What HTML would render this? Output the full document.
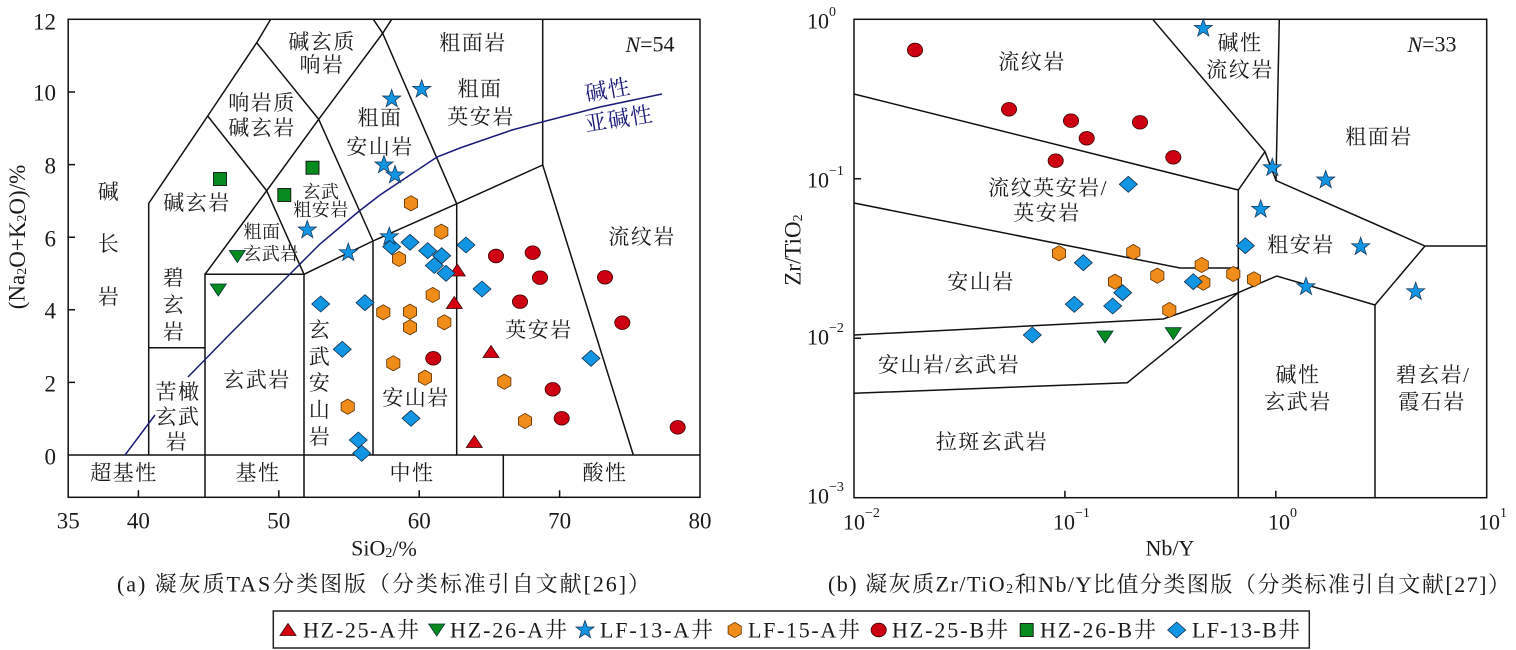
<!DOCTYPE html>
<html><head><meta charset="utf-8"><style>
html,body{margin:0;padding:0;background:#fff}
svg{display:block}
text{font-family:"Liberation Serif","Noto Serif CJK SC",serif;fill:#1a1a1a}
</style></head><body>
<svg width="1516" height="650" viewBox="0 0 1516 650" xmlns="http://www.w3.org/2000/svg">
<defs>
<path id="st" d="M0,-9.5L2.23,-3.07L9.04,-2.94L3.61,1.17L5.58,7.69L0,3.8L-5.58,7.69L-3.61,1.17L-9.04,-2.94L-2.23,-3.07Z" fill="#1296e4" stroke="#173a5c" stroke-width="0.8"/>
<ellipse id="ci" rx="7.6" ry="6.8" fill="#cc0010" stroke="#3a0000" stroke-width="0.8"/>
<path id="tu" d="M0,-7L8,5L-8,5Z" fill="#d40010" stroke="#3a0000" stroke-width="0.8"/>
<path id="td" d="M-8,-5L8,-5L0,7Z" fill="#078a1e" stroke="#033" stroke-width="0.8"/>
<path id="hx" d="M0,-7.6L6.6,-3.8L6.6,3.8L0,7.6L-6.6,3.8L-6.6,-3.8Z" fill="#f08c1a" stroke="#5a3000" stroke-width="0.8"/>
<path id="dm" d="M0,-8L9,0L0,8L-9,0Z" fill="#1296e4" stroke="#10304a" stroke-width="0.8"/>
<rect id="sq" x="-6.5" y="-6.5" width="13" height="13" fill="#078a1e" stroke="#111" stroke-width="0.9"/>
</defs>
<rect width="1516" height="650" fill="#fff"/>

<!-- ================= LEFT CHART ================= -->
<g stroke="#111" stroke-width="1.5" fill="none">
<rect x="68.2" y="19.3" width="631.8" height="478"/>
<path d="M68.2,455H700"/>
<path d="M148.7,455V203.3L207.7,116L256.7,42.7L270.7,19.3"/>
<path d="M148.7,347.7H205"/>
<path d="M205,497.3V274.3H304V497.3"/>
<path d="M205,274.3L266.7,190.7L304,274.3"/>
<path d="M207.7,116L266.7,190.7L318.7,119.3L382.7,33.3L391.7,19.3"/>
<path d="M256.7,42.7L318.7,119.3L373,241"/>
<path d="M373.3,19.3L382.7,33.3L456.7,203.8"/>
<path d="M304,274.3L373,241L456.7,203.8L542.7,165L633.3,455"/>
<path d="M373,241V455M456.7,203.8V455"/>
<path d="M542.7,19.3V165"/>
<path d="M503.3,455V497.3"/>
<path d="M68.2,382.4H75M68.2,309.8H75M68.2,237.2H75M68.2,164.6H75M68.2,92H75"/>
<path d="M138.4,497.3V490.3M278.8,497.3V490.3M419.2,497.3V490.3M559.6,497.3V490.3"/>
</g>
<path d="M125,455L155,415M188,377L230,334L262,302L290,274L320,244L358,212L380,195L410,175L437,157L460,148L483,140L512,130L542,122L600,107L662,94" fill="none" stroke="#1a1a7a" stroke-width="1.5"/>

<g font-size="23" text-anchor="end" dominant-baseline="central">
<text x="56" y="22">12</text>
<text x="56" y="93">10</text>
<text x="56" y="166">8</text>
<text x="56" y="239">6</text>
<text x="56" y="311">4</text>
<text x="56" y="384">2</text>
<text x="56" y="457">0</text>
</g>
<g font-size="23" text-anchor="middle" dominant-baseline="central">
<text x="68.2" y="521">35</text>
<text x="138.4" y="521">40</text>
<text x="278.8" y="521">50</text>
<text x="419.2" y="521">60</text>
<text x="559.6" y="521">70</text>
<text x="700" y="521">80</text>
</g>
<text x="384" y="548" font-size="22" text-anchor="middle" dominant-baseline="central">SiO<tspan font-size="14" dy="5">2</tspan><tspan dy="-5">/%</tspan></text>
<text transform="translate(17,237) rotate(-90)" font-size="23" text-anchor="middle" dominant-baseline="central">(Na<tspan font-size="14" dy="5">2</tspan><tspan dy="-5">O+K</tspan><tspan font-size="14" dy="5">2</tspan><tspan dy="-5">O)/%</tspan></text>

<g font-size="21" text-anchor="middle" dominant-baseline="central" letter-spacing="1.5">
<text x="322" y="42">碱玄质</text>
<text x="322" y="65">响岩</text>
<text x="262" y="103">响岩质</text>
<text x="262" y="128">碱玄岩</text>
<text x="197" y="203">碱玄岩</text>
<text x="380" y="118">粗面</text>
<text x="380" y="147">安山岩</text>
<text x="473" y="43">粗面岩</text>
<text x="480" y="89">粗面</text>
<text x="481" y="117">英安岩</text>
<text x="642" y="237">流纹岩</text>
<text x="539" y="330">英安岩</text>
<text x="416" y="398">安山岩</text>
<text x="257" y="380">玄武岩</text>
<text x="109" y="192">碱</text>
<text x="109" y="244">长</text>
<text x="109" y="297">岩</text>
<text x="174" y="278">碧</text>
<text x="174" y="305">玄</text>
<text x="174" y="332">岩</text>
<text x="178" y="392">苦橄</text>
<text x="178" y="417">玄武</text>
<text x="177" y="442">岩</text>
<text x="320" y="330">玄</text>
<text x="320" y="357">武</text>
<text x="320" y="383">安</text>
<text x="320" y="410">山</text>
<text x="320" y="437">岩</text>
<text x="124" y="473">超基性</text>
<text x="258" y="473">基性</text>
<text x="412" y="473">中性</text>
<text x="605" y="473">酸性</text>
</g>
<g font-size="18" text-anchor="middle" dominant-baseline="central" letter-spacing="0.5">
<text x="321" y="192">玄武</text>
<text x="321" y="210">粗安岩</text>
<text x="262" y="232">粗面</text>
<text x="271" y="254">玄武岩</text>
</g>
<text x="650" y="44" font-size="22" text-anchor="middle" dominant-baseline="central"><tspan font-style="italic">N</tspan>=54</text>
<g font-size="22" text-anchor="middle" dominant-baseline="central" letter-spacing="1">
<text transform="translate(608,90) rotate(-10)" style="fill:#1a1a7a">碱性</text>
<text transform="translate(619,119) rotate(-9)" style="fill:#1a1a7a">亚碱性</text>
</g>

<g>
<use href="#hx" x="399" y="259"/><use href="#hx" x="432.7" y="295"/><use href="#hx" x="383.3" y="312.3"/>
<use href="#hx" x="410" y="311.7"/><use href="#hx" x="410" y="327.3"/><use href="#hx" x="444.3" y="322.3"/>
<use href="#hx" x="393.3" y="363.3"/><use href="#hx" x="425" y="377.7"/><use href="#hx" x="504.3" y="381.7"/>
<use href="#hx" x="525" y="421"/><use href="#hx" x="411" y="203.3"/><use href="#hx" x="441.3" y="231.7"/>
<use href="#hx" x="347.7" y="406.7"/>
<use href="#ci" x="496" y="256"/><use href="#ci" x="532.7" y="252.7"/><use href="#ci" x="540" y="277.7"/>
<use href="#ci" x="605" y="277.3"/><use href="#ci" x="520" y="301.7"/><use href="#ci" x="622.3" y="322.7"/>
<use href="#ci" x="433.3" y="358.3"/><use href="#ci" x="552.7" y="389.3"/><use href="#ci" x="561.7" y="418.3"/>
<use href="#ci" x="677.7" y="427.3"/>
<use href="#tu" x="457.3" y="271"/><use href="#tu" x="454.3" y="303.5"/><use href="#tu" x="491" y="352.5"/><use href="#tu" x="474.3" y="442.5"/>
<use href="#sq" x="220" y="179"/><use href="#sq" x="312.5" y="167.7"/><use href="#sq" x="284.3" y="195"/>
<use href="#td" x="237.3" y="255.5"/><use href="#td" x="218.3" y="289"/>
<use href="#dm" x="391.7" y="246.7"/><use href="#dm" x="410" y="242.3"/><use href="#dm" x="427.7" y="250.7"/>
<use href="#dm" x="441.7" y="255.7"/><use href="#dm" x="434.3" y="265.5"/><use href="#dm" x="446" y="273.3"/>
<use href="#dm" x="466" y="245"/><use href="#dm" x="482" y="289"/><use href="#dm" x="365" y="302.7"/>
<use href="#dm" x="320.7" y="304"/><use href="#dm" x="342.3" y="349.3"/><use href="#dm" x="591" y="358.3"/>
<use href="#dm" x="411" y="418.3"/><use href="#dm" x="358.3" y="440"/><use href="#dm" x="361.7" y="453.3"/>
<use href="#st" x="384" y="165"/><use href="#st" x="395" y="175"/><use href="#st" x="307.3" y="230"/>
<use href="#st" x="348.3" y="252.7"/><use href="#st" x="389.3" y="236.7"/><use href="#st" x="421.7" y="89.3"/>
<use href="#st" x="391.7" y="99"/>
</g>

<!-- ================= RIGHT CHART ================= -->
<g stroke="#111" stroke-width="1.5" fill="none">
<rect x="854" y="19.3" width="632.7" height="478.4"/>
<path d="M854,94L1238.3,190L1265,151.7L1152.7,19.3"/>
<path d="M1279.3,19.3L1276,180.5L1425,246H1486.7"/>
<path d="M1265,151.7L1276,180.5"/>
<path d="M1425,246L1375,305V497.7"/>
<path d="M854,203L1180,268H1238.3"/>
<path d="M1238.3,190V497.7"/>
<path d="M854,335L1163.3,319L1238.3,292.7L1276.7,276L1375,305"/>
<path d="M854,393.3L1127.3,382.7L1238.3,292.7"/>
<path d="M854,178.8H861M854,338.2H861"/>
<path d="M1064.9,497.7V490.7M1275.8,497.7V490.7"/>
</g>
<g font-size="22" dominant-baseline="central">
<text x="807" y="21">10<tspan font-size="14" dy="-9">0</tspan></text>
<text x="807" y="180">10<tspan font-size="14" dy="-9">−1</tspan></text>
<text x="807" y="337">10<tspan font-size="14" dy="-9">−2</tspan></text>
<text x="807" y="496">10<tspan font-size="14" dy="-9">−3</tspan></text>
<text x="843" y="522">10<tspan font-size="14" dy="-9">−2</tspan></text>
<text x="1053" y="522">10<tspan font-size="14" dy="-9">−1</tspan></text>
<text x="1268" y="522">10<tspan font-size="14" dy="-9">0</tspan></text>
<text x="1478" y="522">10<tspan font-size="14" dy="-9">1</tspan></text>
</g>
<text x="1170" y="548" font-size="22" text-anchor="middle" dominant-baseline="central">Nb/Y</text>
<text transform="translate(793,250) rotate(-90)" font-size="23" text-anchor="middle" dominant-baseline="central">Zr/TiO<tspan font-size="14" dy="5">2</tspan></text>

<g font-size="21" text-anchor="middle" dominant-baseline="central" letter-spacing="1.5">
<text x="1032" y="62">流纹岩</text>
<text x="1240" y="43">碱性</text>
<text x="1240" y="70">流纹岩</text>
<text x="1379" y="137">粗面岩</text>
<text x="1301" y="245">粗安岩</text>
<text x="1048" y="188">流纹英安岩/</text>
<text x="1047" y="213">英安岩</text>
<text x="981" y="282">安山岩</text>
<text x="949" y="365">安山岩/玄武岩</text>
<text x="992" y="442">拉斑玄武岩</text>
<text x="1298" y="375">碱性</text>
<text x="1298" y="402">玄武岩</text>
<text x="1433" y="375">碧玄岩/</text>
<text x="1432" y="402">霞石岩</text>
</g>
<text x="1432" y="44" font-size="22" text-anchor="middle" dominant-baseline="central"><tspan font-style="italic">N</tspan>=33</text>

<g>
<use href="#hx" x="1059" y="253.3"/><use href="#hx" x="1133.3" y="252"/><use href="#hx" x="1115" y="281.7"/>
<use href="#hx" x="1201.7" y="265"/><use href="#hx" x="1157.3" y="275.7"/><use href="#hx" x="1233.3" y="274"/>
<use href="#hx" x="1203.3" y="282.7"/><use href="#hx" x="1254" y="279.3"/><use href="#hx" x="1169.3" y="310"/>
<use href="#ci" x="915" y="50"/><use href="#ci" x="1009" y="109.3"/><use href="#ci" x="1071" y="120.7"/>
<use href="#ci" x="1140" y="122.3"/><use href="#ci" x="1086.7" y="138.3"/><use href="#ci" x="1055.7" y="160.7"/>
<use href="#ci" x="1173.3" y="157.3"/>
<use href="#td" x="1105" y="336"/><use href="#td" x="1173.3" y="332.7"/>
<use href="#dm" x="1128.3" y="184.3"/><use href="#dm" x="1245.3" y="245.7"/><use href="#dm" x="1083.3" y="262.7"/>
<use href="#dm" x="1122.7" y="292.7"/><use href="#dm" x="1074.3" y="304.3"/><use href="#dm" x="1112.7" y="306"/>
<use href="#dm" x="1032.3" y="335"/><use href="#dm" x="1193.3" y="281.7"/>
<use href="#st" x="1203.3" y="28.3"/><use href="#st" x="1272.3" y="167.7"/><use href="#st" x="1325.7" y="180"/>
<use href="#st" x="1260.7" y="209.3"/><use href="#st" x="1360.7" y="246.7"/><use href="#st" x="1306" y="286.7"/>
<use href="#st" x="1415.7" y="291.7"/>
</g>

<text x="117" y="584" font-size="22" dominant-baseline="central" textLength="533" lengthAdjust="spacing">(a) 凝灰质TAS分类图版（分类标准引自文献[26]）</text>
<text x="828" y="584" font-size="22" dominant-baseline="central" textLength="682" lengthAdjust="spacing">(b) 凝灰质Zr/TiO<tspan font-size="14" dy="5">2</tspan><tspan dy="-5">和Nb/Y比值分类图版（分类标准引自文献[27]）</tspan></text>

<rect x="273.3" y="611" width="1036" height="37" fill="none" stroke="#222" stroke-width="1.5"/>
<use href="#tu" x="288" y="630.5"/>
<use href="#td" x="436.7" y="629"/>
<use href="#st" x="585" y="630"/>
<use href="#hx" x="734.7" y="630"/>
<use href="#ci" x="878.7" y="630"/>
<use href="#sq" x="1026.7" y="630"/>
<use href="#dm" x="1176.7" y="630"/>
<g font-size="22" dominant-baseline="central">
<text x="303" y="630" textLength="116" lengthAdjust="spacing">HZ-25-A井</text>
<text x="450" y="630" textLength="117" lengthAdjust="spacing">HZ-26-A井</text>
<text x="600" y="630" textLength="113" lengthAdjust="spacing">LF-13-A井</text>
<text x="748" y="630" textLength="112" lengthAdjust="spacing">LF-15-A井</text>
<text x="892" y="630" textLength="116" lengthAdjust="spacing">HZ-25-B井</text>
<text x="1040" y="630" textLength="116" lengthAdjust="spacing">HZ-26-B井</text>
<text x="1192" y="630" textLength="108" lengthAdjust="spacing">LF-13-B井</text>
</g>
</svg>
</body></html>
